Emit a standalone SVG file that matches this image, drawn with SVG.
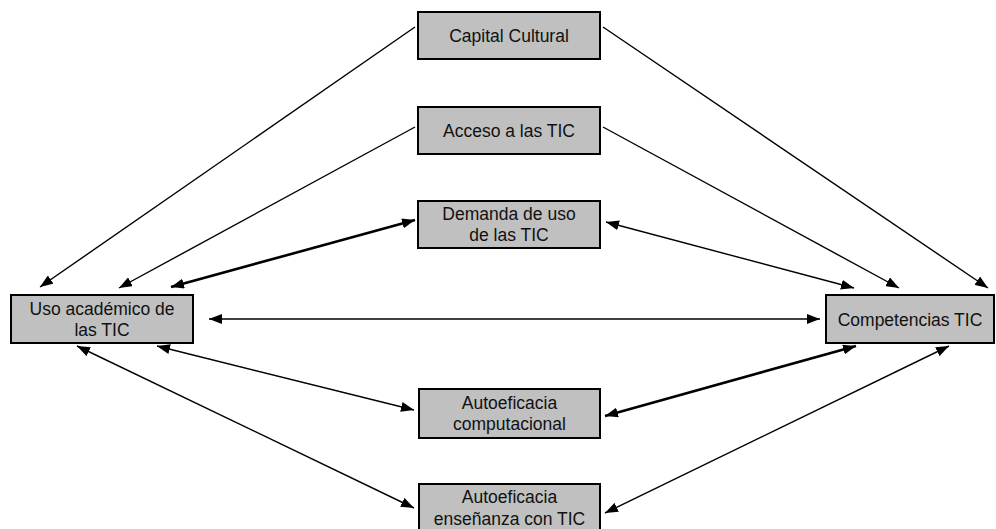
<svg xmlns="http://www.w3.org/2000/svg" width="996" height="529" viewBox="0 0 996 529">
<style>
.box{fill:#c0c0c0;stroke:#000;stroke-width:2}
.t{font-family:"Liberation Sans",Arial,sans-serif;font-size:17.5px;fill:#111;text-anchor:middle}
.c{stroke:#000;fill:none;stroke-width:1.4}
.k{stroke:#000;fill:none;stroke-width:2.6}
.e{marker-end:url(#ah)}
.b{marker-start:url(#ah);marker-end:url(#ah)}
</style>
<defs>
<marker id="ah" viewBox="0 0 13 10" refX="13" refY="5" markerWidth="13" markerHeight="10" markerUnits="userSpaceOnUse" orient="auto-start-reverse">
<path d="M0,0 L13,5 L0,10 z" fill="#000"/>
</marker>
</defs>
<rect width="996" height="529" fill="#fff"/>
<g id="connectors">
<line class="c e" x1="415" y1="27" x2="40" y2="287"/>
<line class="c e" x1="415" y1="127" x2="119" y2="288"/>
<line class="k b" x1="415" y1="220" x2="171" y2="287"/>
<line class="c e" x1="603" y1="27" x2="988" y2="288"/>
<line class="c e" x1="603" y1="127" x2="899" y2="288"/>
<line class="c b" x1="606" y1="222" x2="854" y2="288"/>
<line class="c b" x1="209" y1="319" x2="820" y2="319"/>
<line class="c b" x1="157" y1="346" x2="414" y2="410"/>
<line class="c b" x1="77" y1="346" x2="414" y2="508"/>
<line class="k b" x1="856" y1="346" x2="605" y2="416"/>
<line class="c b" x1="949" y1="346" x2="605" y2="513"/>
</g>
<g id="capital">
<rect class="box" x="418" y="12" width="182" height="47"/>
<text class="t" x="509" y="41.5">Capital Cultural</text>
</g>
<g id="acceso">
<rect class="box" x="418" y="107" width="182" height="47"/>
<text class="t" x="509" y="136.5">Acceso a las TIC</text>
</g>
<g id="demanda">
<rect class="box" x="418" y="201" width="182" height="47"/>
<text class="t" x="509" y="220">Demanda de uso</text>
<text class="t" x="509" y="241">de las TIC</text>
</g>
<g id="uso">
<rect class="box" x="11" y="295" width="182" height="48"/>
<text class="t" x="102" y="315">Uso académico de</text>
<text class="t" x="102" y="336">las TIC</text>
</g>
<g id="competencias">
<rect class="box" x="826" y="295" width="168" height="48"/>
<text class="t" x="910" y="325.5">Competencias TIC</text>
</g>
<g id="autoComp">
<rect class="box" x="419" y="389" width="181" height="49"/>
<text class="t" x="509.5" y="409">Autoeficacia</text>
<text class="t" x="509.5" y="430">computacional</text>
</g>
<g id="autoEns">
<rect class="box" x="419" y="484" width="181" height="50"/>
<text class="t" x="509.5" y="503">Autoeficacia</text>
<text class="t" x="509.5" y="524.5">enseñanza con TIC</text>
</g>
</svg>
